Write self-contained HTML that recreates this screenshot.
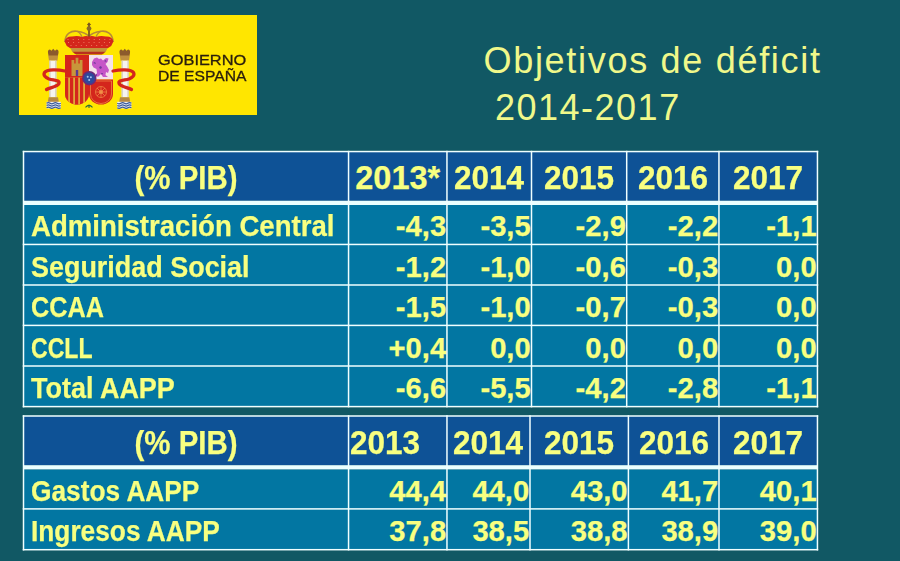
<!DOCTYPE html>
<html><head><meta charset="utf-8"><style>
html,body{margin:0;padding:0;}
body{width:900px;height:561px;overflow:hidden;position:relative;background:#115864;font-family:"Liberation Sans", sans-serif;}
.t{position:absolute;white-space:nowrap;}
.b{-webkit-text-stroke:0.25px #f8ff80;}
</style></head><body>
<div style="position:absolute;left:19px;top:15px;width:238px;height:100px;background:#ffe600;"></div><svg style="position:absolute;left:0;top:0;filter:blur(0.3px)" width="270" height="130" viewBox="0 0 270 130">
<defs>
 <clipPath id="lh"><path d="M65,55 H89 V94 A12,10.5 0 0 1 65,94 Z"/></clipPath>
 <clipPath id="rh"><path d="M89,79.5 H113 V94 A12,10.5 0 0 1 89,94 Z"/></clipPath>
</defs>
<!-- crown -->
<path d="M65,42 C65,33.5 71.5,30.5 77,31.3 C82.5,32 87,34 89,36.5 C91,34 95.5,32 101,31.3 C106.5,30.5 113,33.5 113,42" stroke="#b88a36" stroke-width="1.6" fill="none"/>
<path d="M77,31.3 C80,33 82,36 82.3,38.5 M101,31.3 C98,33 96,36 95.7,38.5" stroke="#b88a36" stroke-width="1.3" fill="none"/>
<line x1="89" y1="22.8" x2="89" y2="37" stroke="#7a5620" stroke-width="1.8"/>
<line x1="87.2" y1="24.5" x2="90.8" y2="24.5" stroke="#7a5620" stroke-width="1.2"/>
<circle cx="89" cy="28.6" r="2.4" fill="#8c6a28"/>
<path d="M64.6,41.5 Q66,36.2 72,36.6 Q77,35 82,37 Q86,35.4 89,36.6 Q92,35.4 96,37 Q101,35 106,36.6 Q112,36.2 113.4,41.5 L111.2,46 Q108,48.8 104,49.2 L74,49.2 Q70,48.8 66.8,46 Z" fill="#d4261c"/>
<circle cx="68.0" cy="39.5" r="0.55" fill="#ee8a6a"/><circle cx="73.2" cy="39.5" r="0.55" fill="#ee8a6a"/><circle cx="78.5" cy="39.5" r="0.55" fill="#ee8a6a"/><circle cx="83.8" cy="39.5" r="0.55" fill="#ee8a6a"/><circle cx="89.0" cy="39.5" r="0.55" fill="#ee8a6a"/><circle cx="94.2" cy="39.5" r="0.55" fill="#ee8a6a"/><circle cx="99.5" cy="39.5" r="0.55" fill="#ee8a6a"/><circle cx="104.8" cy="39.5" r="0.55" fill="#ee8a6a"/><circle cx="110.0" cy="39.5" r="0.55" fill="#ee8a6a"/><circle cx="68.5" cy="42.5" r="0.55" fill="#ee8a6a"/><circle cx="73.6" cy="42.5" r="0.55" fill="#ee8a6a"/><circle cx="78.8" cy="42.5" r="0.55" fill="#ee8a6a"/><circle cx="83.9" cy="42.5" r="0.55" fill="#ee8a6a"/><circle cx="89.0" cy="42.5" r="0.55" fill="#ee8a6a"/><circle cx="94.1" cy="42.5" r="0.55" fill="#ee8a6a"/><circle cx="99.2" cy="42.5" r="0.55" fill="#ee8a6a"/><circle cx="104.4" cy="42.5" r="0.55" fill="#ee8a6a"/><circle cx="109.5" cy="42.5" r="0.55" fill="#ee8a6a"/><circle cx="71.0" cy="45.5" r="0.55" fill="#ee8a6a"/><circle cx="76.1" cy="45.5" r="0.55" fill="#ee8a6a"/><circle cx="81.3" cy="45.5" r="0.55" fill="#ee8a6a"/><circle cx="86.4" cy="45.5" r="0.55" fill="#ee8a6a"/><circle cx="91.6" cy="45.5" r="0.55" fill="#ee8a6a"/><circle cx="96.7" cy="45.5" r="0.55" fill="#ee8a6a"/><circle cx="101.9" cy="45.5" r="0.55" fill="#ee8a6a"/><circle cx="107.0" cy="45.5" r="0.55" fill="#ee8a6a"/>
<path d="M70.5,48 H107.5 L105.6,52.2 H72.4 Z" fill="#c4923e"/>
<path d="M73,51.8 H105 Q104,54.6 100,54.6 H78 Q74,54.6 73,51.8 Z" fill="#b8301e"/>
<!-- shield left -->
<path d="M65,55 H89 V94 A12,10.5 0 0 1 65,94 Z" fill="#d4261c"/>
<g clip-path="url(#lh)">
  <rect x="65" y="77.5" width="24" height="30" fill="#e0a838"/>
  <rect x="65" y="77.5" width="3.2" height="30" fill="#d4261c"/>
  <rect x="70" y="77.5" width="3.2" height="30" fill="#d4261c"/>
  <rect x="75" y="77.5" width="3.2" height="30" fill="#d4261c"/>
  <rect x="80" y="77.5" width="3.2" height="30" fill="#d4261c"/>
  <rect x="85" y="77.5" width="4" height="30" fill="#d4261c"/>
</g>
<path d="M71.5,63.5 H82.5 V76 H71.5 Z M71.5,60 h2.8 v4 h-2.8 Z M75.6,57.8 h2.8 v6 h-2.8 Z M79.7,60 h2.8 v4 h-2.8 Z" fill="#c8963a"/>
<rect x="75.8" y="70" width="2.4" height="6" fill="#5a3a90"/>
<!-- shield right -->
<rect x="89" y="55" width="24" height="24.5" fill="#f5e2ea"/>
<path d="M92,62 L94,58.5 L97,57.5 L99,59 L101,58.5 L103,60.5 L106,58 L108.5,58.5 L107.5,62 L105.5,64 L107.5,67 L109,70 L108,73 L106,72 L105.5,75 L108,77 L103,77 L101,74 L98.5,76.5 L94.5,77 L97,73 L96.5,69 L93.5,67.5 L92,65 Z" fill="#c656c8"/>
<path d="M93,63 l2,-1 l1,2 Z M99,67 l2,-1 l1,2 l-2,1 Z M104,61 l2,-1 l0.5,2 Z M101,73 l2,0 l-1,2 Z M95,75 l2,-1 l0,2 Z" fill="#6a3a98"/>
<path d="M89,79.5 H113 V94 A12,10.5 0 0 1 89,94 Z" fill="#d4261c"/>
<g clip-path="url(#rh)" stroke="#f09048" stroke-width="0.7" fill="none">
  <circle cx="101" cy="92" r="5.5"/>
  <circle cx="101" cy="92" r="1.6" fill="#f09048"/>
  <path d="M95.5,92 H106.5 M101,86.5 V97.5 M97.1,88.1 L104.9,95.9 M104.9,88.1 L97.1,95.9"/>
  <path d="M90.5,81 H111.5 V94 A10.5,9.5 0 0 1 90.5,94 Z"/>
</g>
<circle cx="89.3" cy="78.2" r="6.4" fill="#2e4a9c" stroke="#6a2a78" stroke-width="1.6"/>
<circle cx="87.7" cy="76.8" r="1" fill="#a8c4f0"/><circle cx="90.9" cy="77.2" r="1" fill="#a8c4f0"/><circle cx="89.2" cy="80" r="1" fill="#a8c4f0"/>
<path d="M85.5,107.3 Q89,103.5 92.5,107.3 M89,104.5 V108" stroke="#2a6a40" stroke-width="1.1" fill="none"/>
<!-- pillars -->
<g>
  <path d="M48,53 Q47.5,49.5 50,49.5 L51.5,50.8 L53.2,48.8 L55,50.8 L56.5,49.5 Q59,49.5 58.5,53 L57.8,56 L48.6,56 Z" fill="#8c5a2c"/>
  <path d="M48.2,55.5 H58.2 L57.4,60.8 H49 Z" fill="#c09040"/>
  <rect x="49.4" y="60.6" width="7" height="36.8" fill="#f6f4ee"/>
  <rect x="49.4" y="60.6" width="1.1" height="36.8" fill="#cfc6b4"/>
  <rect x="55.3" y="60.6" width="1.1" height="36.8" fill="#cfc6b4"/>
  <path d="M48.6,97.2 H58 L58.8,102 H47.8 Z" fill="#b48844"/>
  <rect x="46.6" y="101.8" width="14.2" height="6.6" fill="#eef0f4"/>
  <path d="M46.6,103.3 q1.8,-1.2 3.5,0 t3.5,0 t3.5,0 t3.6,0 M46.6,105.5 q1.8,-1.2 3.5,0 t3.5,0 t3.5,0 t3.6,0 M46.6,107.7 q1.8,-1.2 3.5,0 t3.5,0 t3.5,0 t3.6,0" stroke="#38589a" stroke-width="1.2" fill="none"/>
  <path d="M65,71 C58,69.5 47,69 44.5,72.5 C43,75.5 45.5,77.5 49,79 C54,80.5 60.5,80 58.8,83.8 C57.3,86.8 50,87.5 46.5,89.5" stroke="#d4261c" stroke-width="3.3" fill="none" stroke-linecap="round"/>
</g>
<g transform="translate(178,0) scale(-1,1)">
  <path d="M48,53 Q47.5,49.5 50,49.5 L51.5,50.8 L53.2,48.8 L55,50.8 L56.5,49.5 Q59,49.5 58.5,53 L57.8,56 L48.6,56 Z" fill="#8c5a2c"/>
  <path d="M48.2,55.5 H58.2 L57.4,60.8 H49 Z" fill="#c09040"/>
  <rect x="49.4" y="60.6" width="7" height="36.8" fill="#f6f4ee"/>
  <rect x="49.4" y="60.6" width="1.1" height="36.8" fill="#cfc6b4"/>
  <rect x="55.3" y="60.6" width="1.1" height="36.8" fill="#cfc6b4"/>
  <path d="M48.6,97.2 H58 L58.8,102 H47.8 Z" fill="#b48844"/>
  <rect x="46.6" y="101.8" width="14.2" height="6.6" fill="#eef0f4"/>
  <path d="M46.6,103.3 q1.8,-1.2 3.5,0 t3.5,0 t3.5,0 t3.6,0 M46.6,105.5 q1.8,-1.2 3.5,0 t3.5,0 t3.5,0 t3.6,0 M46.6,107.7 q1.8,-1.2 3.5,0 t3.5,0 t3.5,0 t3.6,0" stroke="#38589a" stroke-width="1.2" fill="none"/>
  <path d="M65,71 C58,69.5 47,69 44.5,72.5 C43,75.5 45.5,77.5 49,79 C54,80.5 60.5,80 58.8,83.8 C57.3,86.8 50,87.5 46.5,89.5" stroke="#d4261c" stroke-width="3.3" fill="none" stroke-linecap="round"/>
</g>
</svg>
<svg style="position:absolute;left:0;top:0" width="900" height="561" viewBox="0 0 900 561"><rect x="23.50" y="151.55" width="793.95" height="49.20" fill="#0e5296"/><rect x="23.50" y="205.00" width="793.95" height="201.60" fill="#0276a2"/><rect x="23.50" y="200.75" width="793.95" height="4.25" fill="#eaffff"/><rect x="22.75" y="150.80" width="795.45" height="1.50" fill="#f0ffff"/><rect x="22.75" y="405.85" width="795.45" height="1.50" fill="#f0ffff"/><rect x="22.75" y="243.70" width="795.45" height="1.50" fill="#f0ffff"/><rect x="22.75" y="284.25" width="795.45" height="1.50" fill="#f0ffff"/><rect x="22.75" y="324.65" width="795.45" height="1.50" fill="#f0ffff"/><rect x="22.75" y="365.25" width="795.45" height="1.50" fill="#f0ffff"/><rect x="22.75" y="150.80" width="1.50" height="256.55" fill="#f0ffff"/><rect x="347.80" y="150.80" width="1.50" height="256.55" fill="#f0ffff"/><rect x="446.20" y="150.80" width="1.50" height="256.55" fill="#f0ffff"/><rect x="530.75" y="150.80" width="1.50" height="256.55" fill="#f0ffff"/><rect x="625.95" y="150.80" width="1.50" height="256.55" fill="#f0ffff"/><rect x="718.20" y="150.80" width="1.50" height="256.55" fill="#f0ffff"/><rect x="816.70" y="150.80" width="1.50" height="256.55" fill="#f0ffff"/><rect x="23.50" y="416.00" width="793.95" height="49.20" fill="#0e5296"/><rect x="23.50" y="469.40" width="793.95" height="80.30" fill="#0276a2"/><rect x="23.50" y="465.20" width="793.95" height="4.20" fill="#eaffff"/><rect x="22.75" y="415.25" width="795.45" height="1.50" fill="#f0ffff"/><rect x="22.75" y="548.95" width="795.45" height="1.50" fill="#f0ffff"/><rect x="22.75" y="508.15" width="795.45" height="1.50" fill="#f0ffff"/><rect x="22.75" y="415.25" width="1.50" height="135.20" fill="#f0ffff"/><rect x="347.80" y="415.25" width="1.50" height="135.20" fill="#f0ffff"/><rect x="446.21" y="415.25" width="1.50" height="135.20" fill="#f0ffff"/><rect x="529.25" y="415.25" width="1.50" height="135.20" fill="#f0ffff"/><rect x="627.65" y="415.25" width="1.50" height="135.20" fill="#f0ffff"/><rect x="718.25" y="415.25" width="1.50" height="135.20" fill="#f0ffff"/><rect x="816.70" y="415.25" width="1.50" height="135.20" fill="#f0ffff"/></svg>
<div class="t b" style="left:-114.00px;top:162.49px;width:600px;height:32.5px;line-height:32.5px;font-size:32.5px;font-weight:bold;text-align:center;color:#f8ff80;transform:scaleX(0.905);transform-origin:center;">(% PIB)</div><div class="t b" style="left:97.75px;top:162.49px;width:600px;height:32.5px;line-height:32.5px;font-size:32.5px;font-weight:bold;text-align:center;color:#f8ff80;transform:scaleX(1.0);transform-origin:center;">2013*</div><div class="t b" style="left:189.23px;top:162.49px;width:600px;height:32.5px;line-height:32.5px;font-size:32.5px;font-weight:bold;text-align:center;color:#f8ff80;transform:scaleX(0.97);transform-origin:center;">2014</div><div class="t b" style="left:279.10px;top:162.49px;width:600px;height:32.5px;line-height:32.5px;font-size:32.5px;font-weight:bold;text-align:center;color:#f8ff80;transform:scaleX(0.97);transform-origin:center;">2015</div><div class="t b" style="left:372.83px;top:162.49px;width:600px;height:32.5px;line-height:32.5px;font-size:32.5px;font-weight:bold;text-align:center;color:#f8ff80;transform:scaleX(0.97);transform-origin:center;">2016</div><div class="t b" style="left:468.20px;top:162.49px;width:600px;height:32.5px;line-height:32.5px;font-size:32.5px;font-weight:bold;text-align:center;color:#f8ff80;transform:scaleX(0.97);transform-origin:center;">2017</div><div class="t b" style="left:-114.00px;top:427.49px;width:600px;height:32.5px;line-height:32.5px;font-size:32.5px;font-weight:bold;text-align:center;color:#f8ff80;transform:scaleX(0.905);transform-origin:center;">(% PIB)</div><div class="t b" style="left:349.50px;top:427.49px;width:600px;height:32.5px;line-height:32.5px;font-size:32.5px;font-weight:bold;text-align:left;color:#f8ff80;transform:scaleX(0.97);transform-origin:left;">2013</div><div class="t b" style="left:188.48px;top:427.49px;width:600px;height:32.5px;line-height:32.5px;font-size:32.5px;font-weight:bold;text-align:center;color:#f8ff80;transform:scaleX(0.97);transform-origin:center;">2014</div><div class="t b" style="left:279.20px;top:427.49px;width:600px;height:32.5px;line-height:32.5px;font-size:32.5px;font-weight:bold;text-align:center;color:#f8ff80;transform:scaleX(0.97);transform-origin:center;">2015</div><div class="t b" style="left:373.70px;top:427.49px;width:600px;height:32.5px;line-height:32.5px;font-size:32.5px;font-weight:bold;text-align:center;color:#f8ff80;transform:scaleX(0.97);transform-origin:center;">2016</div><div class="t b" style="left:468.23px;top:427.49px;width:600px;height:32.5px;line-height:32.5px;font-size:32.5px;font-weight:bold;text-align:center;color:#f8ff80;transform:scaleX(0.97);transform-origin:center;">2017</div><div class="t b" style="left:30.50px;top:212.28px;width:600px;height:29.2px;line-height:29.2px;font-size:29.2px;font-weight:bold;text-align:left;color:#f8ff80;transform:scaleX(0.945);transform-origin:left;">Administración Central</div><div class="t b" style="left:-153.85px;top:212.28px;width:600px;height:29.2px;line-height:29.2px;font-size:29.2px;font-weight:bold;text-align:right;color:#f8ff80;transform:scaleX(1.0);transform-origin:right;">-4,3</div><div class="t b" style="left:-69.30px;top:212.28px;width:600px;height:29.2px;line-height:29.2px;font-size:29.2px;font-weight:bold;text-align:right;color:#f8ff80;transform:scaleX(1.0);transform-origin:right;">-3,5</div><div class="t b" style="left:25.90px;top:212.28px;width:600px;height:29.2px;line-height:29.2px;font-size:29.2px;font-weight:bold;text-align:right;color:#f8ff80;transform:scaleX(1.0);transform-origin:right;">-2,9</div><div class="t b" style="left:118.15px;top:212.28px;width:600px;height:29.2px;line-height:29.2px;font-size:29.2px;font-weight:bold;text-align:right;color:#f8ff80;transform:scaleX(1.0);transform-origin:right;">-2,2</div><div class="t b" style="left:216.65px;top:212.28px;width:600px;height:29.2px;line-height:29.2px;font-size:29.2px;font-weight:bold;text-align:right;color:#f8ff80;transform:scaleX(1.0);transform-origin:right;">-1,1</div><div class="t b" style="left:30.50px;top:252.68px;width:600px;height:29.2px;line-height:29.2px;font-size:29.2px;font-weight:bold;text-align:left;color:#f8ff80;transform:scaleX(0.923);transform-origin:left;">Seguridad Social</div><div class="t b" style="left:-153.85px;top:252.68px;width:600px;height:29.2px;line-height:29.2px;font-size:29.2px;font-weight:bold;text-align:right;color:#f8ff80;transform:scaleX(1.0);transform-origin:right;">-1,2</div><div class="t b" style="left:-69.30px;top:252.68px;width:600px;height:29.2px;line-height:29.2px;font-size:29.2px;font-weight:bold;text-align:right;color:#f8ff80;transform:scaleX(1.0);transform-origin:right;">-1,0</div><div class="t b" style="left:25.90px;top:252.68px;width:600px;height:29.2px;line-height:29.2px;font-size:29.2px;font-weight:bold;text-align:right;color:#f8ff80;transform:scaleX(1.0);transform-origin:right;">-0,6</div><div class="t b" style="left:118.15px;top:252.68px;width:600px;height:29.2px;line-height:29.2px;font-size:29.2px;font-weight:bold;text-align:right;color:#f8ff80;transform:scaleX(1.0);transform-origin:right;">-0,3</div><div class="t b" style="left:216.65px;top:252.68px;width:600px;height:29.2px;line-height:29.2px;font-size:29.2px;font-weight:bold;text-align:right;color:#f8ff80;transform:scaleX(1.0);transform-origin:right;">0,0</div><div class="t b" style="left:30.50px;top:293.08px;width:600px;height:29.2px;line-height:29.2px;font-size:29.2px;font-weight:bold;text-align:left;color:#f8ff80;transform:scaleX(0.864);transform-origin:left;">CCAA</div><div class="t b" style="left:-153.85px;top:293.08px;width:600px;height:29.2px;line-height:29.2px;font-size:29.2px;font-weight:bold;text-align:right;color:#f8ff80;transform:scaleX(1.0);transform-origin:right;">-1,5</div><div class="t b" style="left:-69.30px;top:293.08px;width:600px;height:29.2px;line-height:29.2px;font-size:29.2px;font-weight:bold;text-align:right;color:#f8ff80;transform:scaleX(1.0);transform-origin:right;">-1,0</div><div class="t b" style="left:25.90px;top:293.08px;width:600px;height:29.2px;line-height:29.2px;font-size:29.2px;font-weight:bold;text-align:right;color:#f8ff80;transform:scaleX(1.0);transform-origin:right;">-0,7</div><div class="t b" style="left:118.15px;top:293.08px;width:600px;height:29.2px;line-height:29.2px;font-size:29.2px;font-weight:bold;text-align:right;color:#f8ff80;transform:scaleX(1.0);transform-origin:right;">-0,3</div><div class="t b" style="left:216.65px;top:293.08px;width:600px;height:29.2px;line-height:29.2px;font-size:29.2px;font-weight:bold;text-align:right;color:#f8ff80;transform:scaleX(1.0);transform-origin:right;">0,0</div><div class="t b" style="left:30.50px;top:333.58px;width:600px;height:29.2px;line-height:29.2px;font-size:29.2px;font-weight:bold;text-align:left;color:#f8ff80;transform:scaleX(0.79);transform-origin:left;">CCLL</div><div class="t b" style="left:-153.85px;top:333.58px;width:600px;height:29.2px;line-height:29.2px;font-size:29.2px;font-weight:bold;text-align:right;color:#f8ff80;transform:scaleX(1.0);transform-origin:right;">+0,4</div><div class="t b" style="left:-69.30px;top:333.58px;width:600px;height:29.2px;line-height:29.2px;font-size:29.2px;font-weight:bold;text-align:right;color:#f8ff80;transform:scaleX(1.0);transform-origin:right;">0,0</div><div class="t b" style="left:25.90px;top:333.58px;width:600px;height:29.2px;line-height:29.2px;font-size:29.2px;font-weight:bold;text-align:right;color:#f8ff80;transform:scaleX(1.0);transform-origin:right;">0,0</div><div class="t b" style="left:118.15px;top:333.58px;width:600px;height:29.2px;line-height:29.2px;font-size:29.2px;font-weight:bold;text-align:right;color:#f8ff80;transform:scaleX(1.0);transform-origin:right;">0,0</div><div class="t b" style="left:216.65px;top:333.58px;width:600px;height:29.2px;line-height:29.2px;font-size:29.2px;font-weight:bold;text-align:right;color:#f8ff80;transform:scaleX(1.0);transform-origin:right;">0,0</div><div class="t b" style="left:30.50px;top:373.88px;width:600px;height:29.2px;line-height:29.2px;font-size:29.2px;font-weight:bold;text-align:left;color:#f8ff80;transform:scaleX(0.924);transform-origin:left;">Total AAPP</div><div class="t b" style="left:-153.85px;top:373.88px;width:600px;height:29.2px;line-height:29.2px;font-size:29.2px;font-weight:bold;text-align:right;color:#f8ff80;transform:scaleX(1.0);transform-origin:right;">-6,6</div><div class="t b" style="left:-69.30px;top:373.88px;width:600px;height:29.2px;line-height:29.2px;font-size:29.2px;font-weight:bold;text-align:right;color:#f8ff80;transform:scaleX(1.0);transform-origin:right;">-5,5</div><div class="t b" style="left:25.90px;top:373.88px;width:600px;height:29.2px;line-height:29.2px;font-size:29.2px;font-weight:bold;text-align:right;color:#f8ff80;transform:scaleX(1.0);transform-origin:right;">-4,2</div><div class="t b" style="left:118.15px;top:373.88px;width:600px;height:29.2px;line-height:29.2px;font-size:29.2px;font-weight:bold;text-align:right;color:#f8ff80;transform:scaleX(1.0);transform-origin:right;">-2,8</div><div class="t b" style="left:216.65px;top:373.88px;width:600px;height:29.2px;line-height:29.2px;font-size:29.2px;font-weight:bold;text-align:right;color:#f8ff80;transform:scaleX(1.0);transform-origin:right;">-1,1</div><div class="t b" style="left:30.50px;top:476.88px;width:600px;height:29.2px;line-height:29.2px;font-size:29.2px;font-weight:bold;text-align:left;color:#f8ff80;transform:scaleX(0.9);transform-origin:left;">Gastos AAPP</div><div class="t b" style="left:-153.84px;top:476.88px;width:600px;height:29.2px;line-height:29.2px;font-size:29.2px;font-weight:bold;text-align:right;color:#f8ff80;transform:scaleX(1.0);transform-origin:right;">44,4</div><div class="t b" style="left:-70.80px;top:476.88px;width:600px;height:29.2px;line-height:29.2px;font-size:29.2px;font-weight:bold;text-align:right;color:#f8ff80;transform:scaleX(1.0);transform-origin:right;">44,0</div><div class="t b" style="left:27.60px;top:476.88px;width:600px;height:29.2px;line-height:29.2px;font-size:29.2px;font-weight:bold;text-align:right;color:#f8ff80;transform:scaleX(1.0);transform-origin:right;">43,0</div><div class="t b" style="left:118.20px;top:476.88px;width:600px;height:29.2px;line-height:29.2px;font-size:29.2px;font-weight:bold;text-align:right;color:#f8ff80;transform:scaleX(1.0);transform-origin:right;">41,7</div><div class="t b" style="left:216.65px;top:476.88px;width:600px;height:29.2px;line-height:29.2px;font-size:29.2px;font-weight:bold;text-align:right;color:#f8ff80;transform:scaleX(1.0);transform-origin:right;">40,1</div><div class="t b" style="left:30.50px;top:516.68px;width:600px;height:29.2px;line-height:29.2px;font-size:29.2px;font-weight:bold;text-align:left;color:#f8ff80;transform:scaleX(0.9);transform-origin:left;">Ingresos AAPP</div><div class="t b" style="left:-153.84px;top:516.68px;width:600px;height:29.2px;line-height:29.2px;font-size:29.2px;font-weight:bold;text-align:right;color:#f8ff80;transform:scaleX(1.0);transform-origin:right;">37,8</div><div class="t b" style="left:-70.80px;top:516.68px;width:600px;height:29.2px;line-height:29.2px;font-size:29.2px;font-weight:bold;text-align:right;color:#f8ff80;transform:scaleX(1.0);transform-origin:right;">38,5</div><div class="t b" style="left:27.60px;top:516.68px;width:600px;height:29.2px;line-height:29.2px;font-size:29.2px;font-weight:bold;text-align:right;color:#f8ff80;transform:scaleX(1.0);transform-origin:right;">38,8</div><div class="t b" style="left:118.20px;top:516.68px;width:600px;height:29.2px;line-height:29.2px;font-size:29.2px;font-weight:bold;text-align:right;color:#f8ff80;transform:scaleX(1.0);transform-origin:right;">38,9</div><div class="t b" style="left:216.65px;top:516.68px;width:600px;height:29.2px;line-height:29.2px;font-size:29.2px;font-weight:bold;text-align:right;color:#f8ff80;transform:scaleX(1.0);transform-origin:right;">39,0</div><div class="t" style="left:483.50px;top:42.73px;width:600px;height:36px;line-height:36px;font-size:36px;font-weight:normal;text-align:left;color:#f0f88a;transform:scaleX(1.0);transform-origin:left;letter-spacing:1.7px;">Objetivos de déficit</div><div class="t" style="left:495.00px;top:89.93px;width:600px;height:36px;line-height:36px;font-size:36px;font-weight:normal;text-align:left;color:#f0f88a;transform:scaleX(1.0);transform-origin:left;letter-spacing:1.5px;">2014-2017</div><div class="t" style="left:158.30px;top:52.53px;width:600px;height:14.5px;line-height:14.5px;font-size:14.5px;font-weight:normal;text-align:left;color:#2a1e0e;transform:scaleX(1.129);transform-origin:left;-webkit-text-stroke:0.3px #2a1e0e;">GOBIERNO</div><div class="t" style="left:158.30px;top:68.53px;width:600px;height:14.5px;line-height:14.5px;font-size:14.5px;font-weight:normal;text-align:left;color:#2a1e0e;transform:scaleX(1.079);transform-origin:left;-webkit-text-stroke:0.3px #2a1e0e;">DE ESPAÑA</div>
</body></html>
